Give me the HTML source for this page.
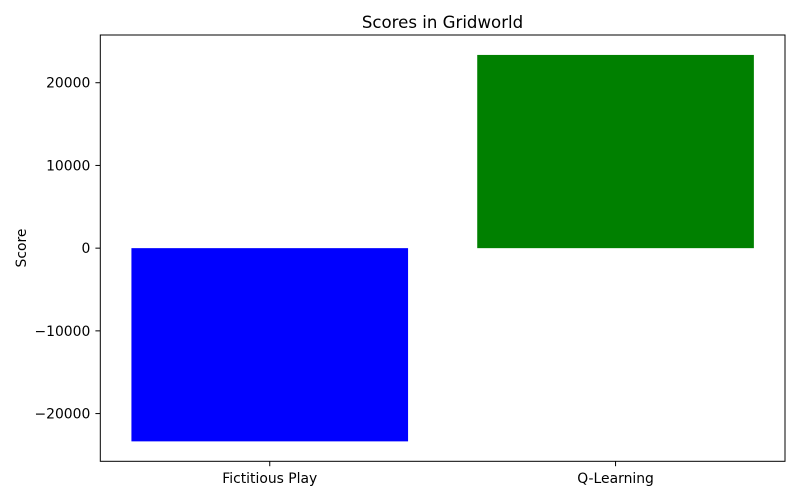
<!DOCTYPE html>
<html><head><meta charset="utf-8"><style>
body{margin:0;background:#fff;}
svg{display:block;font-family:"DejaVu Sans","Liberation Sans",sans-serif;}
</style></head><body>
<svg id="chart" width="800" height="500">
<rect width="800" height="500" fill="#fff"/>
<text x="442.5" y="28" text-anchor="middle" font-size="16.6">Scores in Gridworld</text>
<text transform="translate(26,248) rotate(-90)" text-anchor="middle" font-size="13.9">Score</text>
<g id="bars"></g><g id="yticks"></g><g id="xticks"></g>
<rect x="100.3" y="35" width="684.7" height="426.3" fill="none" stroke="#000" stroke-width="1"/>
</svg>
<script>
const categories = ["Fictitious Play", "Q-Learning"];
const scores = [-23360, 23360];
const barColors = ["#0000ff", "#008000"];
const yTickValues = [-20000, -10000, 0, 10000, 20000];
const yTickLabels = ["\u221220000", "\u221210000", "0", "10000", "20000"];

const NS = "http://www.w3.org/2000/svg";
const L = 100.3, R = 785, T = 35, B = 461.3;
const yMin = -25770, yMax = 25770;
const xMin = -0.49, xMax = categories.length - 1 + 0.49;
const y = v => B - (v - yMin) / (yMax - yMin) * (B - T);
const x = i => L + (i - xMin) / (xMax - xMin) * (R - L);
const unit = (R - L) / (xMax - xMin);
function mk(tag, attrs){const e=document.createElementNS(NS,tag);for(const k in attrs)e.setAttribute(k,attrs[k]);return e;}

const bars = document.getElementById("bars");
scores.forEach((v, i) => {
  const r = mk("rect", {x: x(i) - 0.4*unit, width: 0.8*unit, y: Math.min(y(v), y(0)), height: Math.abs(y(v) - y(0)), fill: barColors[i]});
  
  
  bars.appendChild(r);
});
const yt = document.getElementById("yticks");
yTickValues.forEach((v, i) => {
  const ln = mk("line", {x1: L - 4.9, x2: L, y1: y(v), y2: y(v), stroke: "#000"});
  
  
  yt.appendChild(ln);
  const t = mk("text", {x: L - 10, y: y(v) + 5, "text-anchor": "end", "font-size": "13.9"});
  t.textContent = yTickLabels[i];
  
  
  yt.appendChild(t);
});
const xt = document.getElementById("xticks");
categories.forEach((c, i) => {
  const ln = mk("line", {x1: x(i), x2: x(i), y1: B, y2: B + 4.9, stroke: "#000"});
  
  
  xt.appendChild(ln);
  const t = mk("text", {x: x(i), y: B + 21.5, "text-anchor": "middle", "font-size": "13.9"});
  t.textContent = c;
  
  
  xt.appendChild(t);
});
</script>
</body></html>
